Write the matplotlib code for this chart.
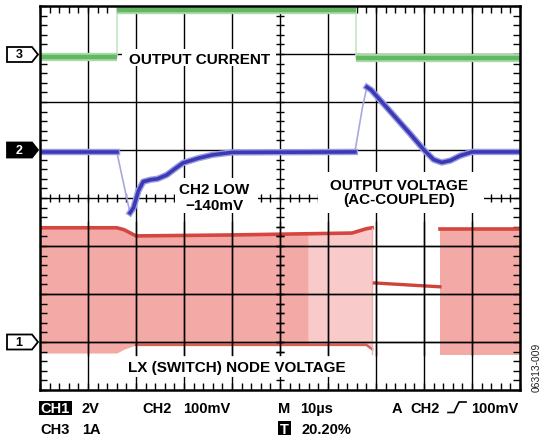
import numpy as np
import matplotlib
matplotlib.use("Agg")
import matplotlib.pyplot as plt
from matplotlib.patches import Polygon, Rectangle
from matplotlib.ticker import MultipleLocator

plt.rcParams['font.family'] = ['Liberation Sans', 'DejaVu Sans']

# ---------------- data (screen divisions) ----------------
# CH3 output current
green_x = [0, 1.6, 1.6, 6.58, 6.58, 10]
green_y = [2.94, 2.94, 3.91, 3.91, 2.92, 2.92]

# CH2 output voltage (AC-coupled)
blue_x = [0, 1.6, 1.72, 1.875, 1.95, 2.05, 2.15, 2.3, 2.45, 2.64, 2.8, 2.98, 3.3, 3.6, 4.0,
          6.56, 6.72, 6.81, 6.9, 7.3, 7.7, 8.0, 8.2, 8.37, 8.55, 8.75, 9.0, 10]
blue_y = [0.96, 0.96, 0.40, -0.31, -0.20, 0.15, 0.34, 0.38, 0.40, 0.48, 0.60, 0.73, 0.83, 0.90, 0.95,
          0.96, 1.90, 2.31, 2.25, 1.80, 1.35, 1.00, 0.80, 0.74, 0.78, 0.88, 0.96, 0.96]
blue_faint = [(1, 3), (15, 17)]  # index ranges of the fast (faint) edges

# CH1 LX switch node: switching envelope
band1_x = [0, 1.6, 1.75, 2.0, 4.0, 6.5, 6.8, 6.92]
band1_top = [-0.62, -0.62, -0.66, -0.79, -0.77, -0.73, -0.64, -0.62]
band1_bot = [-3.23, -3.23, -3.15, -3.06, -3.06, -3.06, -3.06, -3.15]
band2_x = [8.33, 10]
band2_top = [-0.65, -0.65]
band2_bot = [-3.27, -3.27]
lx_flat_x = [6.97, 8.33]
lx_flat_y = [-1.77, -1.85]
light_zone = [5.58, 6.92]

ch_markers = [('3', 3, 'white'), ('2', 1, 'black'), ('1', -3, 'white')]

labels_row1 = [('2V', 82), ('CH2', 142), ('100mV', 183), ('M', 278), ('10\u00b5s', 300),
               ('A', 392), ('CH2', 410), ('100mV', 471)]
labels_row2 = [('CH3', 40), ('1A', 82), ('20.20%', 302)]

# ---------------- figure ----------------
W, H = 548, 438
fig = plt.figure(figsize=(W / 100, H / 100), dpi=100)
L, B, AW, AH = 40, 48, 480, 384
ax = fig.add_axes([L / W, B / H, AW / W, AH / H])
ax.set_xlim(0, 10)
ax.set_ylim(-4, 4)
ax.xaxis.set_major_locator(MultipleLocator(1))
ax.yaxis.set_major_locator(MultipleLocator(1))
ax.xaxis.set_minor_locator(MultipleLocator(0.2))
ax.yaxis.set_minor_locator(MultipleLocator(0.2))
ax.tick_params(which='both', direction='in', top=True, right=True, length=5, width=1.0,
               labelbottom=False, labelleft=False, color='black')
for s in ax.spines.values():
    s.set_linewidth(1.8)
    s.set_zorder(7)

# CH1 switching envelope (semi-transparent so the graticule always shows)
band_c = (241 / 255, 149 / 255, 145 / 255, 0.8)
ax.fill_between(band1_x, band1_bot, band1_top, color=band_c, lw=0, zorder=1)
ax.fill_between(band2_x, band2_bot, band2_top, color=band_c, lw=0, zorder=1)
bx = np.array(band1_x)
zx = np.clip(bx, light_zone[0], light_zone[1])
ax.fill_between(zx, band1_bot, band1_top, color='#f8cbca', lw=0, zorder=1.1)
ax.plot(band1_x, band1_top, color='#d4463f', lw=2.6, zorder=2)
ax.plot(band2_x, band2_top, color='#d4463f', lw=2.6, zorder=2)
ax.plot(band1_x[3:], band1_bot[3:], color='#dc5f58', lw=1.8, zorder=2)
ax.plot([band1_x[-1], band1_x[-1]], [band1_top[-1], band1_bot[-1] - 0.1], color='#eeb0ae', lw=1.0, zorder=2)
ax.plot(lx_flat_x, lx_flat_y, color='#d0433a', lw=2.4, zorder=2)

# graticule in data coordinates
for gx_ in range(1, 10):
    ax.plot([gx_, gx_], [-4, 4], color='black', lw=1.0, zorder=2.5)
for gy_ in range(-3, 4):
    ax.plot([0, 10], [gy_, gy_], color='black', lw=1.0, zorder=2.5)

tk = np.arange(0, 10.01, 0.2)
ax.plot(tk, np.zeros_like(tk), ls='none', marker='|', ms=6, mew=1.0, color='black', zorder=2.6)
tk2 = np.arange(-4, 4.01, 0.2)
ax.plot(np.full_like(tk2, 5.0), tk2, ls='none', marker='_', ms=6, mew=1.0, color='black', zorder=2.6)

# text backgrounds (white)
for (x0, x1, y0, y1) in [(1.71, 4.92, 2.75, 3.10), (2.81, 4.54, -0.31, 0.42),
                         (5.79, 9.25, -0.31, 0.54), (1.62, 6.58, -3.73, -3.29)]:
    ax.add_patch(Rectangle((x0, y0), x1 - x0, y1 - y0, facecolor='white', edgecolor='none', zorder=3))

# green trace
ax.plot(green_x, green_y, color='#c2e6c2', lw=1.2, zorder=4)
gx = np.array(green_x); gy = np.array(green_y)
for i in range(len(gx) - 1):
    if gy[i] == gy[i + 1]:
        ax.plot(gx[i:i + 2], gy[i:i + 2], color='#a9dba9', lw=6.0, solid_capstyle='butt', zorder=4)
        ax.plot(gx[i:i + 2], gy[i:i + 2], color='#62b862', lw=3.2, solid_capstyle='butt', zorder=4.1)

# blue trace
bxv = np.array(blue_x); byv = np.array(blue_y)
ax.plot(bxv, byv, color='#a8a8e0', lw=1.2, zorder=4)
bright = []
start = 0
for a, b in blue_faint:
    bright.append((start, a + 1))
    start = b
bright.append((start, len(bxv)))
for a, b in bright:
    ax.plot(bxv[a:b], byv[a:b], color='#9c9ce0', lw=4.6, solid_joinstyle='round', zorder=4)
    ax.plot(bxv[a:b], byv[a:b], color='#3a3ab8', lw=2.6, solid_joinstyle='round', zorder=4.1)

tkw = dict(fontsize=11, fontweight='bold', ha='center', va='baseline', zorder=6, color='black')
ax.text(3.33, 2.79, 'OUTPUT CURRENT', **tkw)
ax.text(3.625, 0.073, 'CH2 LOW', **tkw)
ax.text(3.625, -0.25, '\u2212140mV', **tkw)
ax.text(7.48, 0.177, 'OUTPUT VOLTAGE', **tkw)
ax.text(7.48, -0.135, '(AC-COUPLED)', **tkw)
ax.text(4.1, -3.625, 'LX (SWITCH) NODE VOLTAGE', **tkw)

# ---------------- overlay (pixel coordinates) ----------------
ov = fig.add_axes([0, 0, 1, 1], zorder=10)
ov.set_xlim(0, W)
ov.set_ylim(H, 0)
ov.axis('off')

# graticule repeated on top across the CH1 envelope region
for gx_ in range(1, 10):
    ov.plot([gx_, gx_], [-0.5, -3.28], color='black', lw=1.0, transform=ax.transData)
for gy_ in (-1, -2, -3):
    ov.plot([0, 10], [gy_, gy_], color='black', lw=1.0, transform=ax.transData)
tk3 = np.arange(-3.2, -0.59, 0.2)
ov.plot(np.full_like(tk3, 5.0), tk3, ls='none', marker='_', ms=6, mew=1.0, color='black',
        transform=ax.transData)

for lab, d, fc in ch_markers:
    yc = 198 - 48 * d + (0.5 if d == 3 else 0)
    pts = [(7, yc - 7.5), (32, yc - 7.5), (38, yc), (32, yc + 7.5), (7, yc + 7.5)]
    ov.add_patch(Polygon(pts, closed=True, facecolor=fc, edgecolor='black', lw=1.3))
    ov.text(19, yc + 0.5, lab, ha='center', va='center', fontsize=9, fontweight='bold',
            color='white' if fc == 'black' else 'black')

bkw = dict(fontsize=10.5, fontweight='bold', ha='left', va='baseline', color='black')
ov.add_patch(Rectangle((39, 400.5), 33, 14, facecolor='black', edgecolor='none'))
ov.text(40.5, 413, 'CH1', **{**bkw, 'color': 'white'})
for t, x in labels_row1:
    ov.text(x, 413, t, **bkw)
for t, x in labels_row2:
    ov.text(x, 433.5, t, **bkw)
ov.add_patch(Rectangle((278, 421), 13, 14, facecolor='black', edgecolor='none'))
ov.text(284.5, 433.5, 'T', **{**bkw, 'color': 'white', 'ha': 'center'})
ov.plot([448, 454, 459, 466], [412.5, 412.5, 402, 402], color='black', lw=1.2)

ov.text(537, 367.5, '06313-009', rotation=90, ha='center', va='center', fontsize=7.4, color='#222222')

fig.savefig('out.png', dpi=100)
